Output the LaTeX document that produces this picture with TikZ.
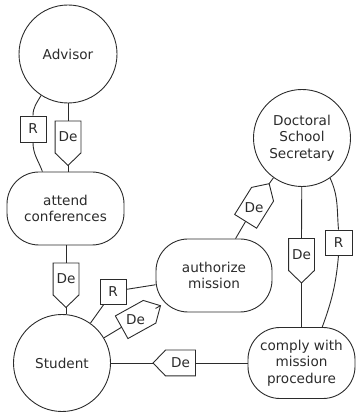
\documentclass[tikz,border=0pt]{standalone}
\usepackage{fontspec}
\setmainfont{DejaVu Sans}
\usepackage{tikz}
\usetikzlibrary{calc}
\definecolor{inkgray}{HTML}{2B2B2B}

% pentagon round a dependency node, its point beyond the east side
\newcommand{\deoutline}[1]{%
    \coordinate (#1-tip) at ($(#1.east)!-12.5pt!(#1.west)$);
    \draw (#1.north west) -- (#1.north east) -- (#1-tip) -- (#1.south east) -- (#1.south west) -- cycle;}

\begin{document}
\begin{tikzpicture}[x=1pt, y=1pt, inkgray, line width=0.9pt,
    font=\fontsize{13.6}{16.7}\selectfont,
    role/.style={draw, circle, minimum size=98pt, inner sep=0pt, align=center},
    task/.style={draw, rectangle, rounded corners=32pt, minimum width=116pt, minimum height=73pt, align=center, inner sep=0pt},
    depbox/.style={rectangle, inner sep=0pt, minimum width=31pt, minimum height=25pt},
    respbox/.style={draw, rectangle, minimum width=26pt, minimum height=25pt, inner sep=0pt}]
    \useasboundingbox (0, 0) rectangle (356, 412);

    % actors and tasks
    \node[role] (advisor) at (68, 358) {Advisor};
    \node[role, minimum size=97pt] (secretary) at (302, 274) {Doctoral\\School\\Secretary};
    \node[role, minimum size=97pt] (student) at (62, 49) {Student};
    \node[task, minimum width=117pt] (attend) at (65.5, 203.5) {attend\\conferences};
    \node[task] (authorize) at (214, 136.5) {authorize\\mission};
    \node[task, minimum width=107pt, minimum height=71pt] (comply) at (301.5, 49) {comply with\\mission\\procedure};

    % dependency boxes
    \node[depbox, rotate=-90] (deAdvisor) at (68, 275) {\rotatebox{90}{De}};
    \node[depbox, rotate=-90] (deAttend) at (66, 133) {\rotatebox{90}{De}};
    \node[depbox, rotate=-90] (deSecretary) at (301.5, 157.5) {\rotatebox{90}{De}};
    \node[depbox, rotate=180, minimum width=29pt] (deComply) at (180.5, 49) {\rotatebox{180}{De}};
    \node[depbox, rotate=29] (deStudent) at (135.6, 92.5) {\rotatebox{-29}{De}};
    \node[depbox, rotate=58] (deAuthorize) at (254.1, 204.2) {\rotatebox{-58}{De}};
    \deoutline{deAdvisor}
    \deoutline{deAttend}
    \deoutline{deSecretary}
    \deoutline{deComply}
    \deoutline{deStudent}
    \deoutline{deAuthorize}

    % responsibility boxes
    \node[respbox, minimum height=26pt] (rAdvisor) at (33, 283) {R};
    \node[respbox] (rStudent) at (113, 120.5) {R};
    \node[respbox, minimum width=27pt] (rSecretary) at (338.5, 169.5) {R};

    % links
    \draw (advisor) -- (deAdvisor.west);
    \draw (deAdvisor-tip) -- (deAdvisor-tip |- attend.north);
    \draw (attend.south -| deAttend.west) -- (deAttend.west);
    \draw (deAttend-tip) -- (deAttend-tip |- student.north);
    \draw (secretary) -- (deSecretary.west);
    \draw (deSecretary-tip) -- (deSecretary-tip |- comply.north);
    \draw (comply) -- (deComply.west);
    \draw (deComply-tip) -- (deComply-tip -| student.east);
    \draw (student) -- (deStudent.west);
    \draw (deStudent-tip) -- (authorize);
    \draw (authorize) -- (deAuthorize.west);
    \draw (deAuthorize-tip) -- (secretary);
    \draw (advisor.-123) to[out=-120, in=90] (rAdvisor.north);
    \draw (rAdvisor.south) to[out=-90, in=110] (attend.122);
    \draw (student) -- (rStudent);
    \draw (rStudent) -- (authorize);
    \draw (secretary.-55) to[out=-65, in=95] (rSecretary.north);
    \draw (rSecretary.south) to[out=-95, in=70] (comply.60);
\end{tikzpicture}
\end{document}
